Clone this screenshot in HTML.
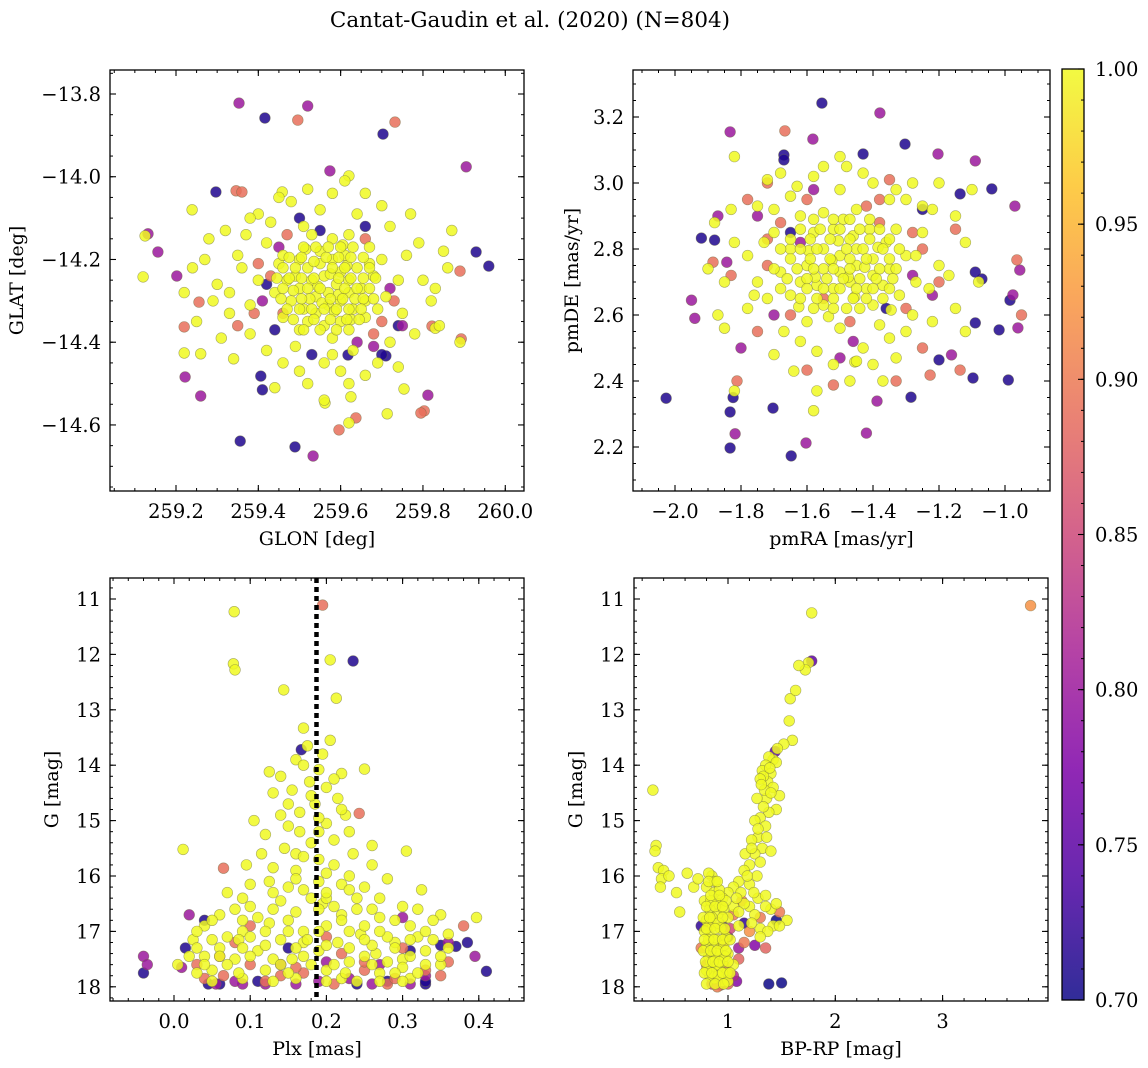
<!DOCTYPE html>
<html><head><meta charset="utf-8"><style>
body{margin:0;background:#fff;}
svg{display:block;font-family:"DejaVu Serif","Liberation Serif",serif;}
</style></head><body>
<svg id="fig" width="1148" height="1068" viewBox="0 0 1148 1068" xmlns="http://www.w3.org/2000/svg">
<defs>
<linearGradient id="plasma" x1="0" y1="1" x2="0" y2="0">
<stop offset="0" stop-color="#0d0887"/><stop offset="0.125" stop-color="#4c02a1"/><stop offset="0.25" stop-color="#7e03a8"/><stop offset="0.375" stop-color="#a82296"/><stop offset="0.5" stop-color="#cc4778"/><stop offset="0.625" stop-color="#e66c5c"/><stop offset="0.75" stop-color="#f89540"/><stop offset="0.875" stop-color="#fdc328"/><stop offset="1" stop-color="#f0f921"/>
</linearGradient>
</defs>
<text x="530" y="27" font-size="21.5" text-anchor="middle">Cantat-Gaudin et al. (2020) (N=804)</text>
</svg>
<script>
// ---- data: [x, y, membership probability] ----
const skyPts = [
[259.353,-13.822,.8],[259.52,-13.829,.8],[259.416,-13.858,.71],[259.496,-13.863,.89],[259.732,-13.868,.89],[259.703,-13.897,.71],[259.905,-13.976,.8],[259.574,-13.986,.8],[259.62,-13.998,1],[259.297,-14.037,.71],[259.346,-14.034,.89],[259.36,-14.037,.89],[259.239,-14.08,1],[259.458,-14.037,1],[259.132,-14.138,.8],[259.125,-14.143,1],[259.156,-14.182,.8],[259.929,-14.182,.71],[259.96,-14.216,.71],[259.12,-14.242,1],[259.202,-14.24,.8],[259.89,-14.228,.89],[259.256,-14.303,.89],[259.822,-14.361,.89],[259.83,-14.366,1],[259.22,-14.363,.89],[259.893,-14.392,.89],[259.89,-14.4,1],[259.22,-14.426,1],[259.26,-14.428,1],[259.222,-14.484,.8],[259.26,-14.53,.8],[259.406,-14.482,.71],[259.41,-14.515,.71],[259.812,-14.528,.8],[259.803,-14.566,.89],[259.795,-14.571,.89],[259.713,-14.573,1],[259.356,-14.639,.71],[259.489,-14.653,.71],[259.596,-14.612,.89],[259.637,-14.583,.89],[259.533,-14.675,.8],[259.62,-14.595,1],[259.562,-14.547,1],[259.625,-14.532,1],[259.754,-14.513,1],[259.71,-14.433,.71],[259.618,-14.431,.71],
[259.43,-14.24,.89],[259.70,-14.35,.89],[259.47,-14.14,.89],[259.35,-14.36,.89],[259.68,-14.38,.89],[259.41,-14.30,.8],[259.64,-14.40,.8],[259.75,-14.36,.8],[259.53,-14.43,.71],[259.70,-14.43,.71],[259.50,-14.10,.71],[259.44,-14.37,.71],
[259.40,-14.21,.89],[259.73,-14.30,.89],[259.46,-14.33,.89],[259.66,-14.15,.89],[259.39,-14.33,.89],[259.72,-14.27,.8],[259.45,-14.17,.8],[259.68,-14.41,.8],[259.55,-14.13,.71],[259.66,-14.12,.71],[259.42,-14.26,.71],[259.74,-14.36,.71],
[259.50,-14.20,1],[259.52,-14.22,1],[259.55,-14.18,1],[259.58,-14.20,1],[259.61,-14.19,1],[259.64,-14.22,1],[259.47,-14.25,1],[259.50,-14.27,1],[259.53,-14.25,1],[259.56,-14.24,1],[259.59,-14.26,1],[259.62,-14.25,1],[259.65,-14.27,1],[259.68,-14.24,1],[259.48,-14.30,1],[259.51,-14.32,1],[259.54,-14.29,1],[259.57,-14.31,1],[259.60,-14.30,1],[259.63,-14.32,1],[259.66,-14.30,1],[259.52,-14.35,1],[259.56,-14.36,1],[259.60,-14.35,1],[259.58,-14.15,1],[259.53,-14.14,1],[259.62,-14.14,1],[259.45,-14.21,1],[259.70,-14.20,1],[259.44,-14.28,1],[259.71,-14.29,1],[259.55,-14.21,1],[259.60,-14.23,1],[259.57,-14.28,1],[259.54,-14.33,1],[259.62,-14.28,1],[259.49,-14.24,1],[259.66,-14.34,1],[259.46,-14.34,1],[259.58,-14.39,1],[259.51,-14.12,1],[259.67,-14.17,1],[259.42,-14.16,1],[259.40,-14.25,1],[259.74,-14.25,1],[259.75,-14.33,1],[259.38,-14.31,1],[259.63,-14.42,1],[259.49,-14.41,1],[259.56,-14.45,1],[259.35,-14.19,1],[259.79,-14.16,1],[259.77,-14.09,1],[259.32,-14.13,1],[259.30,-14.26,1],[259.82,-14.30,1],[259.45,-14.05,1],[259.66,-14.04,1],[259.61,-14.01,1],[259.38,-14.38,1],[259.69,-14.45,1],[259.27,-14.20,1],[259.25,-14.35,1],[259.86,-14.22,1],[259.84,-14.36,1],[259.52,-14.50,1],[259.60,-14.47,1],[259.40,-14.09,1],[259.72,-14.12,1],[259.29,-14.30,1],[259.74,-14.46,1],[259.56,-14.54,1],[259.34,-14.44,1],
[259.545,-14.265,1],[259.575,-14.235,1],[259.595,-14.285,1],[259.525,-14.295,1],[259.615,-14.215,1],[259.565,-14.195,1],[259.535,-14.205,1],[259.585,-14.325,1],[259.625,-14.345,1],[259.505,-14.245,1],[259.655,-14.245,1],[259.485,-14.275,1],[259.635,-14.295,1],[259.555,-14.305,1],[259.605,-14.165,1],[259.515,-14.175,1],[259.67,-14.21,1],[259.46,-14.19,1],[259.69,-14.32,1],[259.50,-14.37,1],
[259.51,-14.17,1],[259.54,-14.17,1],[259.57,-14.17,1],[259.60,-14.17,1],[259.63,-14.17,1],
[259.475,-14.195,1],[259.505,-14.195,1],[259.595,-14.195,1],[259.625,-14.195,1],[259.655,-14.195,1],
[259.46,-14.22,1],[259.49,-14.22,1],[259.58,-14.22,1],[259.61,-14.22,1],[259.67,-14.22,1],
[259.445,-14.245,1],[259.475,-14.245,1],[259.535,-14.245,1],[259.595,-14.245,1],[259.625,-14.245,1],[259.685,-14.245,1],
[259.46,-14.27,1],[259.52,-14.27,1],[259.55,-14.27,1],[259.61,-14.27,1],[259.64,-14.27,1],[259.67,-14.27,1],
[259.455,-14.295,1],[259.505,-14.295,1],[259.575,-14.295,1],[259.605,-14.295,1],[259.655,-14.295,1],[259.68,-14.295,1],
[259.47,-14.32,1],[259.50,-14.32,1],[259.53,-14.32,1],[259.56,-14.32,1],[259.59,-14.32,1],[259.62,-14.32,1],[259.65,-14.32,1],
[259.485,-14.345,1],[259.535,-14.345,1],[259.575,-14.345,1],[259.615,-14.345,1],[259.645,-14.345,1],
[259.51,-14.37,1],[259.55,-14.37,1],[259.59,-14.37,1],[259.62,-14.37,1],
[259.36,-14.22,1],[259.33,-14.28,1],[259.37,-14.14,1],[259.43,-14.11,1],[259.48,-14.06,1],[259.55,-14.08,1],[259.64,-14.09,1],[259.70,-14.07,1],[259.76,-14.19,1],[259.80,-14.25,1],[259.78,-14.38,1],[259.72,-14.40,1],[259.66,-14.48,1],[259.58,-14.43,1],[259.46,-14.45,1],[259.42,-14.42,1],[259.33,-14.33,1],[259.28,-14.15,1],[259.22,-14.28,1],[259.24,-14.22,1],[259.31,-14.39,1],[259.87,-14.13,1],[259.83,-14.27,1],[259.62,-14.50,1],[259.50,-14.47,1],[259.44,-14.51,1],[259.38,-14.10,1],[259.58,-14.04,1],[259.52,-14.03,1],[259.85,-14.18,1]
];
const pmPts = [
[-1.555,3.242,.71],[-1.379,3.212,.8],[-1.833,3.155,.8],[-1.667,3.158,.89],[-1.582,3.133,.8],[-1.303,3.118,.71],[-1.67,3.085,.71],[-1.67,3.07,.71],[-1.43,3.088,.71],[-1.203,3.088,.8],[-1.09,3.067,.8],[-1.04,2.982,.71],[-0.97,2.93,.8],[-1.136,2.967,.71],[-1.88,2.827,.71],[-1.92,2.833,.71],[-1.95,2.645,.8],[-1.94,2.59,.8],[-2.027,2.348,.71],[-1.833,2.306,.71],[-1.818,2.24,.8],[-1.833,2.197,.71],[-1.648,2.173,.71],[-1.603,2.212,.8],[-1.703,2.318,.71],[-1.42,2.242,.8],[-1.388,2.339,.8],[-1.285,2.351,.71],[-1.2,2.464,.71],[-1.162,2.479,.8],[-1.097,2.409,.71],[-0.99,2.403,.71],[-0.961,2.561,.8],[-0.976,2.661,.8],[-0.955,2.736,.8],[-0.964,2.767,.89],[-1.018,2.555,.71],[-0.985,2.645,.71],[-1.09,2.576,.71],[-1.07,2.709,.71],[-1.09,2.73,.71],[-0.95,2.60,.89],[-1.455,2.458,1],[-1.52,2.388,.89],[-1.6,2.433,.89],[-1.227,2.418,.89],[-1.136,2.433,.89],[-1.33,2.40,.89],[-1.843,2.76,.8],[-1.885,2.76,.89],[-1.812,2.40,.89],[-1.82,2.37,1],[-1.824,2.35,.71],
[-1.68,2.88,.89],[-1.60,2.95,.89],[-1.72,2.75,.89],[-1.38,2.88,.89],[-1.30,2.62,.89],[-1.25,2.50,.89],[-1.75,2.55,.89],[-1.47,2.58,.89],[-1.55,2.65,.89],[-1.42,2.93,.89],[-1.78,2.95,.89],[-1.35,3.01,.89],[-1.28,2.85,.89],[-1.62,2.82,.8],[-1.46,2.52,.8],[-1.70,2.60,.8],[-1.22,2.66,.8],[-1.58,2.98,.8],[-1.80,2.50,.8],
[-1.72,2.83,.89],[-1.83,2.72,.89],[-1.25,2.80,.89],[-1.20,2.70,.89],[-1.65,2.60,.89],[-1.38,2.95,.89],[-1.72,3.00,.89],[-1.15,2.86,.89],[-1.75,2.90,.8],[-1.28,2.72,.8],[-1.50,2.47,.8],[-1.87,2.90,.8],[-1.36,2.62,.71],[-1.65,2.85,.71],[-1.25,2.92,.71],
[-1.55,2.80,1],[-1.50,2.78,1],[-1.45,2.80,1],[-1.40,2.77,1],[-1.60,2.75,1],[-1.55,2.74,1],[-1.50,2.73,1],[-1.45,2.75,1],[-1.40,2.72,1],[-1.35,2.74,1],[-1.62,2.70,1],[-1.57,2.69,1],[-1.52,2.68,1],[-1.47,2.70,1],[-1.42,2.68,1],[-1.37,2.69,1],[-1.58,2.85,1],[-1.52,2.86,1],[-1.46,2.84,1],[-1.41,2.86,1],[-1.36,2.82,1],[-1.65,2.80,1],[-1.68,2.73,1],[-1.65,2.66,1],[-1.55,2.63,1],[-1.48,2.62,1],[-1.40,2.63,1],[-1.32,2.66,1],[-1.30,2.78,1],[-1.33,2.86,1],[-1.45,2.92,1],[-1.55,2.91,1],[-1.62,2.90,1],[-1.70,2.85,1],[-1.72,2.65,1],[-1.60,2.58,1],[-1.50,2.56,1],[-1.38,2.57,1],[-1.27,2.70,1],[-1.25,2.85,1],[-1.35,2.95,1],[-1.50,2.98,1],[-1.65,2.96,1],[-1.78,2.78,1],[-1.78,2.62,1],[-1.62,2.52,1],[-1.43,2.50,1],[-1.30,2.55,1],[-1.20,2.75,1],[-1.22,2.92,1],[-1.40,3.00,1],[-1.58,3.02,1],[-1.75,2.93,1],[-1.85,2.70,1],[-1.70,2.48,1],[-1.52,2.45,1],[-1.33,2.47,1],[-1.15,2.62,1],[-1.12,2.82,1],[-1.28,3.00,1],[-1.82,3.08,1],[-1.48,3.05,1],[-1.85,2.56,1],[-1.58,2.31,1],[-1.47,2.40,1],[-1.22,2.58,1],[-1.15,2.90,1],[-1.88,2.88,1],[-1.68,3.03,1],[-1.30,2.95,1],[-1.57,2.37,1],[-1.37,2.40,1],
[-1.525,2.765,1],[-1.475,2.715,1],[-1.575,2.715,1],[-1.425,2.745,1],[-1.505,2.825,1],[-1.455,2.655,1],[-1.595,2.795,1],[-1.385,2.805,1],[-1.535,2.595,1],[-1.625,2.625,1],[-1.345,2.615,1],[-1.49,2.89,1],
[-1.62,2.86,1],[-1.56,2.86,1],[-1.50,2.86,1],[-1.44,2.86,1],[-1.38,2.86,1],
[-1.65,2.83,1],[-1.59,2.83,1],[-1.53,2.83,1],[-1.47,2.83,1],[-1.41,2.83,1],[-1.35,2.83,1],
[-1.68,2.80,1],[-1.62,2.80,1],[-1.57,2.80,1],[-1.48,2.80,1],[-1.43,2.80,1],[-1.37,2.80,1],[-1.32,2.80,1],
[-1.65,2.77,1],[-1.59,2.77,1],[-1.53,2.77,1],[-1.47,2.77,1],[-1.42,2.77,1],[-1.35,2.77,1],
[-1.70,2.74,1],[-1.63,2.74,1],[-1.58,2.74,1],[-1.52,2.74,1],[-1.47,2.74,1],[-1.38,2.74,1],[-1.33,2.74,1],
[-1.66,2.71,1],[-1.60,2.71,1],[-1.54,2.71,1],[-1.49,2.71,1],[-1.44,2.71,1],[-1.39,2.71,1],[-1.34,2.71,1],
[-1.68,2.68,1],[-1.60,2.68,1],[-1.55,2.68,1],[-1.50,2.68,1],[-1.45,2.68,1],[-1.40,2.68,1],[-1.35,2.68,1],
[-1.62,2.65,1],[-1.57,2.65,1],[-1.52,2.65,1],[-1.46,2.65,1],[-1.42,2.65,1],[-1.37,2.65,1],
[-1.58,2.62,1],[-1.52,2.62,1],[-1.44,2.62,1],[-1.58,2.89,1],[-1.52,2.89,1],[-1.47,2.89,1],[-1.41,2.89,1],
[-1.75,2.70,1],[-1.73,2.82,1],[-1.70,2.92,1],[-1.63,2.99,1],[-1.55,3.05,1],[-1.43,3.03,1],[-1.33,2.98,1],[-1.25,2.93,1],[-1.27,2.78,1],[-1.23,2.68,1],[-1.28,2.60,1],[-1.35,2.53,1],[-1.45,2.46,1],[-1.57,2.49,1],[-1.67,2.55,1],[-1.76,2.66,1],[-1.82,2.82,1],[-1.90,2.74,1],[-1.83,2.92,1],[-1.17,2.72,1],[-1.12,2.55,1],[-1.10,2.98,1],[-1.20,3.00,1],[-1.64,2.43,1],[-1.40,2.45,1],[-1.72,3.01,1],[-1.50,3.08,1],[-1.87,2.60,1],[-1.08,2.70,1]
];
const plxPts = [
[0.079,11.23,1],[0.078,12.17,1],[0.08,12.28,1],[0.205,12.1,1],[0.213,12.79,1],[0.144,12.64,1],[0.17,13.33,1],[0.175,13.65,1],[0.16,13.9,1],[0.125,14.12,1],[0.14,14.2,1],[0.19,14.08,1],[0.25,14.07,1],[0.22,14.15,1],[0.205,13.55,1],[0.195,13.8,1],[0.178,14.3,1],[0.155,14.45,1],[0.13,14.5,1],[0.2,14.4,1],[0.215,14.6,1],[0.185,14.7,1],[0.165,14.85,1],[0.14,14.9,1],[0.105,15.0,1],[0.225,14.9,1],[0.2,15.05,1],[0.165,15.2,1],[0.18,15.4,1],[0.21,15.35,1],[0.145,15.5,1],[0.115,15.6,1],[0.235,15.6,1],[0.305,15.55,1],[0.012,15.52,1],[0.26,15.8,1],[0.19,15.7,1],[0.16,15.9,1],[0.2,15.95,1],[0.095,15.8,1],[0.125,16.1,1],[0.22,16.15,1],[0.28,16.05,1],[0.325,16.25,1],[0.07,16.3,1],[0.17,16.25,1],[0.24,16.4,1],[0.14,16.45,1],[0.195,16.5,1],[0.3,16.55,1],[0.1,16.55,1],[0.06,16.7,1],[0.35,16.7,1],[0.397,16.75,1],[0.16,16.65,1],[0.22,16.7,1],[0.27,16.75,1],[0.125,16.85,1],[0.04,16.9,1],[0.2,16.9,1],[0.31,16.9,1],[0.09,17.0,1],[0.17,17.0,1],[0.245,17.05,1],[0.36,17.05,1],[0.025,17.15,1],[0.14,17.15,1],[0.215,17.2,1],[0.29,17.2,1],[0.06,17.3,1],[0.11,17.35,1],[0.19,17.35,1],[0.265,17.4,1],[0.33,17.35,1],[0.005,17.6,1],[0.08,17.5,1],[0.155,17.5,1],[0.23,17.55,1],[0.3,17.5,1],[0.05,17.7,1],[0.12,17.7,1],[0.2,17.7,1],[0.27,17.75,1],[0.35,17.6,1],[0.09,17.85,1],[0.16,17.85,1],[0.24,17.9,1],[0.31,17.85,1],[0.23,16.0,1],[0.15,16.2,1],[0.26,16.6,1],[0.18,17.6,1],[0.1,17.1,1],[0.3,17.65,1],
[0.13,16.3,1],[0.18,16.4,1],[0.21,16.55,1],[0.25,16.9,1],[0.28,17.1,1],[0.15,17.0,1],[0.07,17.1,1],[0.12,17.25,1],[0.2,17.25,1],[0.32,17.1,1],[0.04,17.45,1],[0.26,17.25,1],[0.13,17.5,1],[0.28,17.55,1],[0.17,17.2,1],[0.22,17.85,1],[0.11,16.75,1],[0.23,16.25,1],[0.19,16.1,1],[0.16,15.6,1],
[0.09,16.4,1],[0.2,16.4,1],[0.27,16.4,1],
[0.08,16.6,1],[0.13,16.6,1],[0.19,16.6,1],[0.24,16.6,1],[0.32,16.6,1],
[0.05,16.8,1],[0.09,16.8,1],[0.15,16.8,1],[0.22,16.8,1],[0.29,16.8,1],[0.34,16.8,1],
[0.03,17.0,1],[0.12,17.0,1],[0.19,17.0,1],[0.23,17.0,1],[0.27,17.0,1],[0.33,17.0,1],
[0.05,17.15,1],[0.085,17.15,1],[0.175,17.15,1],[0.25,17.15,1],[0.31,17.15,1],[0.34,17.15,1],
[0.03,17.3,1],[0.09,17.3,1],[0.16,17.3,1],[0.23,17.3,1],[0.29,17.3,1],[0.36,17.3,1],
[0.02,17.45,1],[0.06,17.45,1],[0.1,17.45,1],[0.17,17.45,1],[0.25,17.45,1],[0.31,17.45,1],[0.35,17.45,1],
[0.04,17.6,1],[0.07,17.6,1],[0.14,17.6,1],[0.21,17.6,1],[0.26,17.6,1],[0.33,17.6,1],
[0.03,17.75,1],[0.085,17.75,1],[0.15,17.75,1],[0.225,17.75,1],[0.29,17.75,1],[0.32,17.75,1],
[0.05,17.9,1],[0.13,17.9,1],[0.2,17.9,1],[0.27,17.9,1],[0.3,17.9,1],
[0.17,14.0,1],[0.21,14.25,1],[0.15,14.7,1],[0.19,14.95,1],[0.23,15.2,1],[0.12,15.25,1],[0.17,15.65,1],[0.21,15.8,1],[0.13,15.85,1],[0.25,16.2,1],[0.1,16.15,1],[0.19,15.2,1],[0.15,15.1,1],[0.26,15.45,1],[0.2,16.3,1],[0.16,16.05,1],[0.22,14.8,1],[0.18,14.55,1],
[0.065,15.86,.89],[0.243,14.87,.89],[0.03,17.6,.89],[0.1,17.6,.89],[0.17,17.75,.89],[0.25,17.7,.89],[0.33,17.7,.89],[0.38,16.9,.89],[0.065,17.8,.89],[0.22,17.4,.89],[0.14,17.8,.89],[0.28,17.95,.89],[0.36,17.55,.89],[0.2,17.1,.89],[0.08,17.2,.89],[0.195,11.11,.89],
[0.04,17.85,.89],[0.12,17.9,.89],[0.21,17.95,.89],[0.29,17.85,.89],[0.35,17.8,.89],[0.16,17.65,.89],[0.25,17.55,.89],[0.06,17.45,.89],[0.1,16.9,.89],[0.3,17.3,.89],
[-0.04,17.45,.8],[-0.035,17.6,.8],[0.02,16.7,.8],[0.01,17.65,.8],[0.12,17.95,.8],[0.19,17.9,.8],[0.26,17.95,.8],[0.31,17.95,.8],[0.055,17.95,.8],[0.2,17.55,.8],[0.3,16.75,.8],[0.395,17.45,.8],[0.36,17.2,.8],[0.09,17.95,.8],
[0.08,17.9,.8],[0.16,17.95,.8],[0.23,17.85,.8],[0.27,17.6,.8],[0.33,17.8,.8],[0.14,17.6,.8],
[-0.04,17.75,.71],[0.015,17.3,.71],[0.04,16.8,.71],[0.045,17.95,.71],[0.35,17.25,.71],[0.37,17.27,.71],[0.385,17.2,.71],[0.41,17.72,.71],[0.33,17.95,.71],[0.31,17.35,.71],[0.235,12.12,.71],[0.167,13.72,.71],[0.11,17.9,.71],[0.24,17.95,.71],[0.15,17.3,.71],
[0.06,17.95,.71],[0.28,17.9,.71],[0.33,17.9,.71]
];
const cmdPts = [
[3.82,11.12,.92],[1.78,11.25,1],[1.78,12.12,.75],[1.75,12.15,1],[1.72,12.28,1],[1.66,12.2,1],[1.58,12.8,1],[1.63,12.65,1],[1.57,13.2,1],[1.6,13.55,1],[1.52,13.62,1],[1.46,13.7,1],[1.44,13.75,.75],[1.42,13.9,1],[1.38,13.85,1],[1.35,14.0,1],[1.32,14.1,1],[1.4,14.15,1],[1.37,14.3,1],[1.33,14.2,1],[1.42,14.4,1],[1.36,14.6,1],[1.48,14.55,1],[1.45,14.8,1],[1.38,14.85,1],[1.3,14.95,1],[1.35,15.1,1],[1.28,15.3,1],[1.32,15.5,1],[1.25,15.6,1],[1.4,15.55,1],[1.2,15.8,1],[1.15,15.9,1],[1.27,16.0,1],[1.1,16.1,1],[1.05,16.2,1],[1.2,16.15,1],[1.0,16.3,1],[0.95,16.4,1],[1.12,16.3,1],[1.28,16.4,1],[1.35,16.35,1],[0.9,16.5,1],[1.05,16.55,1],[1.2,16.55,1],[1.4,16.6,1],[1.48,16.65,.9],[1.25,16.7,1],[0.85,16.0,1],[0.82,15.95,1],[0.8,16.2,1],[0.87,16.3,1],[0.78,16.45,1],[0.83,16.6,1],[0.9,16.7,1],[0.8,16.8,1],[0.86,16.9,1],[0.93,16.95,1],[0.78,17.0,1],[0.84,17.1,1],[0.9,17.15,1],[0.98,17.1,1],[0.8,17.25,1],[0.87,17.3,1],[0.93,17.35,1],[1.0,17.4,1],[0.82,17.45,1],[0.88,17.5,1],[0.95,17.55,1],[0.85,17.65,1],[0.92,17.7,1],[0.99,17.75,1],[0.87,17.85,1],[0.95,17.9,1],[0.83,17.8,1],[1.05,17.6,1],[1.1,16.9,1],[1.3,16.95,1],[1.42,16.9,1],[1.35,17.3,.88],[1.37,17.0,1],[0.3,14.45,1],[0.33,15.45,1],[0.32,15.55,1],[0.35,15.85,1],[0.4,15.9,1],[0.38,16.05,1],[0.37,16.2,1],[0.45,16.0,1],[0.52,16.3,1],[0.55,16.65,1],[0.62,15.95,1],[0.68,16.2,1],[0.72,16.05,1],
[1.3,14.25,1],[1.34,14.45,1],[1.27,14.6,1],[1.25,15.0,1],[1.22,15.35,1],[1.16,15.6,1],[0.88,16.1,1],[0.92,16.25,1],[0.84,16.45,1],[0.96,16.6,1],[0.85,16.75,1],[0.91,16.85,1],[0.82,17.15,1],[0.96,17.25,1],[0.89,17.4,1],[0.84,17.55,1],[0.9,17.6,1],[0.97,17.45,1],[0.91,17.8,1],[1.0,17.9,1],[0.8,17.7,1],[1.15,16.5,1],[1.1,16.65,1],[1.0,16.75,1],[0.98,16.45,1],
[0.82,16.1,1],[0.9,16.1,1],[0.84,16.35,1],[0.92,16.35,1],[0.8,16.55,1],[0.88,16.55,1],[0.95,16.55,1],[0.77,16.75,1],[0.83,16.75,1],[0.95,16.75,1],[0.8,16.95,1],[0.88,16.95,1],[0.97,16.95,1],[0.78,17.15,1],[0.87,17.15,1],[0.95,17.15,1],[1.02,17.15,1],[0.77,17.35,1],[0.84,17.35,1],[0.9,17.35,1],[0.98,17.35,1],[0.79,17.55,1],[0.86,17.55,1],[0.92,17.55,1],[1.0,17.55,1],[0.78,17.75,1],[0.85,17.75,1],[0.95,17.75,1],[1.02,17.75,1],[0.8,17.95,1],[0.88,17.95,1],[0.96,17.95,1],
[1.45,13.95,1],[1.39,14.05,1],[1.31,14.35,1],[1.4,14.5,1],[1.33,14.75,1],[1.28,15.15,1],[1.36,15.3,1],[1.22,15.5,1],[1.3,15.75,1],[1.18,16.0,1],[1.24,16.3,1],[1.08,16.4,1],[1.35,16.55,1],[1.22,16.85,1],[1.3,17.1,1],[1.45,16.5,1],[1.55,16.8,1],[1.48,16.9,1],
[0.85,17.95,.85],[0.93,17.97,.8],[1.05,17.8,.82],[1.1,17.5,.88],[1.08,17.9,.78],[1.0,17.1,.72],[1.15,17.2,.9],[0.75,17.3,.9],[0.8,17.6,.88],[1.02,16.95,.85],[1.25,17.25,.78],[1.15,16.85,.72],[1.38,17.95,.7],[1.5,17.93,.7],[1.45,16.8,.7],[0.75,16.9,.72],[1.2,17.0,.92],[0.98,17.65,.9],[1.3,16.75,.9],[1.13,16.45,.9],[0.9,18.0,.9],
[0.85,17.4,.88],[0.95,17.2,.85],[1.1,17.3,.8],[0.9,17.9,.8],[1.0,17.95,.88],[0.82,16.9,.88],[1.05,16.7,.9],[0.95,16.9,.72]
];
const skyXTicks = [259.2,259.4,259.6,259.8,260.0];
const skyYTicks = [-13.8,-14.0,-14.2,-14.4,-14.6];
const pmXTicks = [-2.0,-1.8,-1.6,-1.4,-1.2,-1.0];
const pmYTicks = [2.2,2.4,2.6,2.8,3.0,3.2];
const plxXTicks = [0.0,0.1,0.2,0.3,0.4];
const magTicks = [11,12,13,14,15,16,17,18];
const bprpTicks = [1,2,3];
const cbarTicks = [0.70,0.75,0.80,0.85,0.90,0.95,1.00];
const plxRef = 0.187;

const NS="http://www.w3.org/2000/svg";
const svg=document.getElementById('fig');
function mk(tag,attrs,parent){const e=document.createElementNS(NS,tag);for(const k in attrs)e.setAttribute(k,attrs[k]);(parent||svg).appendChild(e);return e;}
const stops=[[0,[13,8,135]],[.125,[76,2,161]],[.25,[126,3,168]],[.375,[168,34,150]],[.5,[204,71,120]],[.625,[230,108,92]],[.75,[248,149,64]],[.875,[253,195,40]],[1,[240,249,33]]];
function plasma(p){let t=Math.max(0,Math.min(1,(p-0.7)/0.3));for(let i=1;i<stops.length;i++){if(t<=stops[i][0]){const a=stops[i-1],b=stops[i];const f=(t-a[0])/(b[0]-a[0]);return 'rgb('+a[1].map((v,j)=>Math.round(v+(b[1][j]-v)*f)).join(',')+')';}}return 'rgb(240,249,33)';}
const fmtM=(v,d)=>(v<0?'\u2212':'')+Math.abs(v).toFixed(d);

function panel(o){
  const g=mk('g',{});
  
  
  const sx=v=>o.x0px+(v-o.x0)*o.xs, sy=v=>o.y0px+(v-o.y0)*o.ys;
  const cid='clip-'+o.name;
  const cp=mk('clipPath',{id:cid},g);mk('rect',{x:o.L,y:o.T,width:o.R-o.L,height:o.B-o.T},cp);
  const pg=mk('g',{'clip-path':'url(#'+cid+')'},g);
  const pts=o.pts.slice().sort((a,b)=>a[2]-b[2]);
  pts.forEach(p=>{
    const c=mk('circle',{cx:sx(p[0]).toFixed(1),cy:sy(p[1]).toFixed(1),r:5.4,fill:plasma(p[2]),'fill-opacity':0.85,stroke:'#6b6b40','stroke-opacity':0.55,'stroke-width':0.6},pg);
    
    
  });
  if(o.vline!==undefined){const l=mk('line',{x1:sx(o.vline),x2:sx(o.vline),y1:o.T,y2:o.B,stroke:'#000','stroke-width':4.5,'stroke-dasharray':'5,4'},pg);
    
    }
  const fr=mk('rect',{x:o.L,y:o.T,width:o.R-o.L,height:o.B-o.T,fill:'none',stroke:'#000','stroke-width':1.3},g);
  
  
  const xlo=Math.min(o.x0+(o.L-o.x0px)/o.xs,o.x0+(o.R-o.x0px)/o.xs), xhi=Math.max(o.x0+(o.L-o.x0px)/o.xs,o.x0+(o.R-o.x0px)/o.xs);
  for(let v=Math.ceil(xlo/o.xm)*o.xm; v<=xhi; v+=o.xm){const X=sx(v);mk('line',{x1:X,x2:X,y1:o.B,y2:o.B-3,stroke:'#000','stroke-width':1},g);mk('line',{x1:X,x2:X,y1:o.T,y2:o.T+3,stroke:'#000','stroke-width':1},g);}
  const ya=o.y0+(o.T-o.y0px)/o.ys, yb=o.y0+(o.B-o.y0px)/o.ys, ylo=Math.min(ya,yb), yhi=Math.max(ya,yb);
  for(let v=Math.ceil(ylo/o.ym)*o.ym; v<=yhi; v+=o.ym){const Y=sy(v);mk('line',{x1:o.L,x2:o.L+3,y1:Y,y2:Y,stroke:'#000','stroke-width':1},g);mk('line',{x1:o.R,x2:o.R-3,y1:Y,y2:Y,stroke:'#000','stroke-width':1},g);}
  o.xt.forEach(v=>{const X=sx(v);mk('line',{x1:X,x2:X,y1:o.B,y2:o.B-6,stroke:'#000','stroke-width':1.1},g);mk('line',{x1:X,x2:X,y1:o.T,y2:o.T+6,stroke:'#000','stroke-width':1.1},g);
    const t=mk('text',{x:X,y:o.B+27,'font-size':19.5,'text-anchor':'middle'},g);t.textContent=fmtM(v,o.xd);
    
    });
  o.yt.forEach(v=>{const Y=sy(v);mk('line',{x1:o.L,x2:o.L+6,y1:Y,y2:Y,stroke:'#000','stroke-width':1.1},g);mk('line',{x1:o.R,x2:o.R-6,y1:Y,y2:Y,stroke:'#000','stroke-width':1.1},g);
    const t=mk('text',{x:o.L-9,y:Y+7,'font-size':19.5,'text-anchor':'end'},g);t.textContent=fmtM(v,o.yd);
    
    });
  const xl=mk('text',{x:(o.L+o.R)/2,y:o.B+54,'font-size':19,'text-anchor':'middle'},g);xl.textContent=o.xlab;
  
  
  const yx=o.ylx, yc=(o.T+o.B)/2;
  const yl=mk('text',{x:yx,y:yc,'font-size':19,'text-anchor':'middle',transform:'rotate(-90 '+yx+' '+yc+')'},g);yl.textContent=o.ylab;
  
  
}
panel({name:'sky-position-panel',pts:skyPts,L:110,R:524,T:70,B:491,x0:259.2,x0px:176,xs:411.6,y0:-13.8,y0px:94,ys:-413.7,xm:0.05,ym:0.05,xt:skyXTicks,yt:skyYTicks,xd:1,yd:1,xlab:'GLON [deg]',ylab:'GLAT [deg]',ylx:23});
panel({name:'proper-motion-panel',pts:pmPts,L:633,R:1050,T:70,B:491,x0:-2.0,x0px:675,xs:330,y0:3.2,y0px:117,ys:-330,xm:0.05,ym:0.05,xt:pmXTicks,yt:pmYTicks,xd:1,yd:1,xlab:'pmRA [mas/yr]',ylab:'pmDE [mas/yr]',ylx:578});
panel({name:'parallax-magnitude-panel',pts:plxPts,L:110,R:524,T:578,B:1001,x0:0,x0px:174,xs:762,y0:11,y0px:599,ys:55.4,xm:0.02,ym:0.2,xt:plxXTicks,yt:magTicks,xd:1,yd:0,xlab:'Plx [mas]',ylab:'G [mag]',ylx:58});
panel({name:'color-magnitude-panel',pts:cmdPts,L:634,R:1048,T:578,B:1001,x0:1,x0px:728,xs:107.3,y0:11,y0px:599,ys:55.4,xm:0.2,ym:0.2,xt:bprpTicks,yt:magTicks,xd:0,yd:0,xlab:'BP-RP [mag]',ylab:'G [mag]',ylx:582});
// dashed reference line drawn above points in parallax panel
(function(){const X=174+(plxRef-0)*762;const l=mk('line',{x1:X,x2:X,y1:578,y2:1001,stroke:'#000','stroke-width':4.5,'stroke-dasharray':'5,4'});

})();

const cb=mk('g',{});


const cbT=69,cbB=1000,cbL=1062,cbR=1084;
mk('rect',{x:cbL,y:cbT,width:cbR-cbL,height:cbB-cbT,fill:'url(#plasma)','fill-opacity':0.85},cb);
mk('rect',{x:cbL,y:cbT,width:cbR-cbL,height:cbB-cbT,fill:'none',stroke:'#000','stroke-width':1.3},cb);
const cby=v=>cbB-(v-0.7)/0.3*(cbB-cbT);
for(let i=0;i<=30;i++){const v=0.7+i*0.01,Y=cby(v);mk('line',{x1:cbR,x2:cbR-3,y1:Y,y2:Y,stroke:'#000','stroke-width':1},cb);}
cbarTicks.forEach(v=>{const Y=cby(v);mk('line',{x1:cbR,x2:cbR-6,y1:Y,y2:Y,stroke:'#000','stroke-width':1.1},cb);
  const t=mk('text',{x:cbR+11,y:Y+7,'font-size':19.5},cb);t.textContent=v.toFixed(2);
  
  });
</script>
</body></html>
